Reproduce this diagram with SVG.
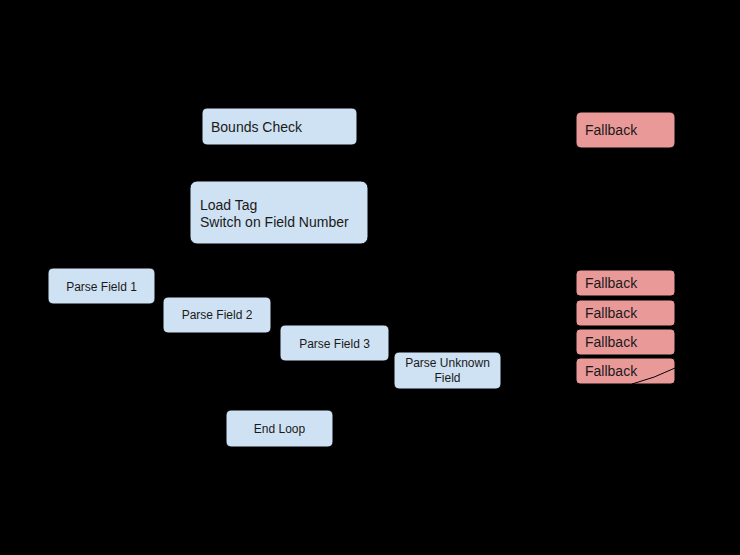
<svg xmlns="http://www.w3.org/2000/svg" width="740" height="555" viewBox="0 0 740 555">
<defs>
<style>
.bg{fill:#000}
.blue{fill:#cfe2f3;stroke:#000;stroke-width:1}
.red{fill:#ea9999;stroke:#000;stroke-width:1}
.t{font-family:"Liberation Sans",Arial,sans-serif;fill:#1a1a1a}
.l14{font-size:14px}
.s12{font-size:12px}
.c{text-anchor:middle}
.edge{fill:none;stroke:#000;stroke-width:1}
</style>
<marker id="arr" viewBox="0 0 10 10" refX="9" refY="5" markerWidth="7" markerHeight="7" orient="auto-start-reverse">
<path d="M0,0 L10,5 L0,10 z" fill="#000"/>
</marker>
</defs>
<rect class="bg" x="0" y="0" width="740" height="555"/>
<g id="connectors">
<path class="edge" d="M280,60 L280,107" marker-end="url(#arr)"/>
<path class="edge" d="M357,127 L575,130" marker-end="url(#arr)"/>
<path class="edge" d="M280,145 L280,180" marker-end="url(#arr)"/>
<path class="edge" d="M280,244 C260,258 150,262 106,267" marker-end="url(#arr)"/>
<path class="edge" d="M280,244 C250,270 225,285 218,296" marker-end="url(#arr)"/>
<path class="edge" d="M280,244 C300,280 325,300 330,324" marker-end="url(#arr)"/>
<path class="edge" d="M280,244 C380,280 440,320 448,351" marker-end="url(#arr)"/>
<path class="edge" d="M155,286 C350,250 500,283 575,283" marker-end="url(#arr)"/>
<path class="edge" d="M271,315 C400,300 500,313 575,313" marker-end="url(#arr)"/>
<path class="edge" d="M389,343 C450,340 520,342 575,342" marker-end="url(#arr)"/>
<path class="edge" d="M501,371 L575,371" marker-end="url(#arr)"/>
<path class="edge" d="M105,304 C140,360 250,380 279,409" marker-end="url(#arr)"/>
<path class="edge" d="M218,333 C240,370 270,390 280,409" marker-end="url(#arr)"/>
<path class="edge" d="M330,361 C315,385 290,395 281,409" marker-end="url(#arr)"/>
<path class="edge" d="M430,389 C380,395 300,400 282,409" marker-end="url(#arr)"/>
<path class="edge" d="M675,130 C720,130 720,60 280,60"/>
<path class="edge" d="M675,283 C710,283 710,480 280,480"/>
<path class="edge" d="M675,313 L700,313"/>
<path class="edge" d="M675,342 L700,342"/>
<path class="edge" d="M675,376 L700,376"/>
<path class="edge" d="M333,430 L360,430"/>
<path class="edge" d="M280,447 L280,480"/>
</g>
<g id="bounds-check">
<rect class="blue" x="202" y="108" width="155" height="37" rx="5"/>
<text class="t l14" x="211" y="132">Bounds Check</text>
</g>
<g id="fallback-top">
<rect class="red" x="576" y="112" width="99" height="36" rx="5"/>
<text class="t l14" x="585" y="135">Fallback</text>
</g>
<g id="load-tag">
<rect class="blue" x="190" y="181" width="178" height="63" rx="7"/>
<text class="t l14" x="200" y="210">Load Tag</text>
<text class="t l14" x="200" y="227">Switch on Field Number</text>
</g>
<g id="parse-field-1">
<rect class="blue" x="48" y="268" width="107" height="36" rx="5"/>
<text class="t s12 c" x="101.5" y="291">Parse Field 1</text>
</g>
<g id="parse-field-2">
<rect class="blue" x="163" y="297" width="108" height="36" rx="5"/>
<text class="t s12 c" x="217" y="319">Parse Field 2</text>
</g>
<g id="parse-field-3">
<rect class="blue" x="280" y="325" width="109" height="36" rx="5"/>
<text class="t s12 c" x="334.5" y="348">Parse Field 3</text>
</g>
<g id="parse-unknown">
<rect class="blue" x="394" y="352" width="107" height="37" rx="5"/>
<text class="t s12 c" x="447.5" y="367">Parse Unknown</text>
<text class="t s12 c" x="447.5" y="382">Field</text>
</g>
<g id="end-loop">
<rect class="blue" x="226" y="410" width="107" height="37" rx="5"/>
<text class="t s12 c" x="279.5" y="433">End Loop</text>
</g>
<g id="fallback-1">
<rect class="red" x="576" y="270" width="99" height="26" rx="4"/>
<text class="t l14" x="585" y="288">Fallback</text>
</g>
<g id="fallback-2">
<rect class="red" x="576" y="300" width="99" height="26" rx="4"/>
<text class="t l14" x="585" y="318">Fallback</text>
</g>
<g id="fallback-3">
<rect class="red" x="576" y="329" width="99" height="26" rx="4"/>
<text class="t l14" x="585" y="347">Fallback</text>
</g>
<g id="fallback-4">
<rect class="red" x="576" y="358" width="99" height="26" rx="4"/>
<text class="t l14" x="585" y="376">Fallback</text>
</g>
<path class="edge" d="M632,384 Q655,378 675,368"/>
</svg>
